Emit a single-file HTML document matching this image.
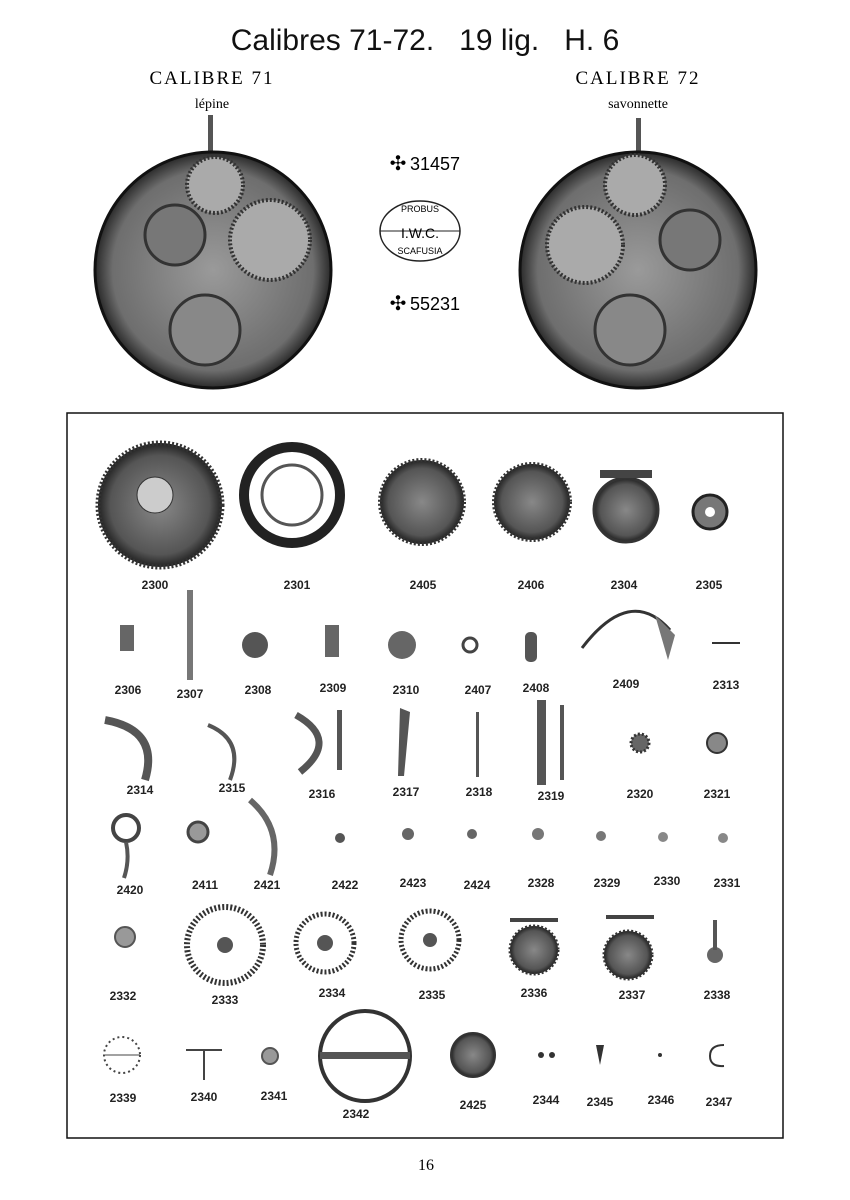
<!DOCTYPE html>
<html><head><meta charset="utf-8"><style>
body{margin:0;background:#fff}
svg{display:block}
text{font-family:"Liberation Sans",sans-serif}
.l{font-size:12px;font-weight:bold;text-anchor:middle;fill:#222}
</style></head><body>
<svg width="850" height="1200" viewBox="0 0 850 1200" xmlns="http://www.w3.org/2000/svg">
<defs>
<radialGradient id="mv" cx="50%" cy="50%" r="50%"><stop offset="0" stop-color="#9a9a9a"/><stop offset="0.85" stop-color="#6e6e6e"/><stop offset="1" stop-color="#2a2a2a"/></radialGradient>
<radialGradient id="gr" cx="50%" cy="50%" r="50%"><stop offset="0" stop-color="#888"/><stop offset="0.8" stop-color="#555"/><stop offset="1" stop-color="#222"/></radialGradient>
</defs>
<rect width="850" height="1200" fill="#fff"/>
<text x="425" y="50" font-size="30" text-anchor="middle" fill="#111">Calibres 71-72.&#160;&#160; 19 lig.&#160;&#160; H. 6</text>
<text x="212" y="84" font-size="19" text-anchor="middle" font-family="Liberation Serif" letter-spacing="2" style="font-family:'Liberation Serif',serif">CALIBRE 71</text>
<text x="212" y="108" font-size="14" text-anchor="middle" style="font-family:'Liberation Serif',serif">lépine</text>
<text x="638" y="84" font-size="19" text-anchor="middle" letter-spacing="2" style="font-family:'Liberation Serif',serif">CALIBRE 72</text>
<text x="638" y="108" font-size="14" text-anchor="middle" style="font-family:'Liberation Serif',serif">savonnette</text>
<!-- movements -->
<rect x="208" y="115" width="5" height="40" fill="#555"/>
<circle cx="213" cy="270" r="118" fill="url(#mv)" stroke="#111" stroke-width="3"/>
<circle cx="215" cy="185" r="28" fill="#aaa" stroke="#333" stroke-width="4" stroke-dasharray="2 2"/>
<circle cx="270" cy="240" r="40" fill="#aaa" stroke="#333" stroke-width="4" stroke-dasharray="2 2"/>
<circle cx="175" cy="235" r="30" fill="#777" stroke="#333" stroke-width="3"/>
<circle cx="205" cy="330" r="35" fill="#888" stroke="#333" stroke-width="3"/>
<rect x="636" y="118" width="5" height="40" fill="#555"/>
<circle cx="638" cy="270" r="118" fill="url(#mv)" stroke="#111" stroke-width="3"/>
<circle cx="635" cy="185" r="30" fill="#aaa" stroke="#333" stroke-width="4" stroke-dasharray="2 2"/>
<circle cx="585" cy="245" r="38" fill="#aaa" stroke="#333" stroke-width="4" stroke-dasharray="2 2"/>
<circle cx="690" cy="240" r="30" fill="#777" stroke="#333" stroke-width="3"/>
<circle cx="630" cy="330" r="35" fill="#888" stroke="#333" stroke-width="3"/>
<!-- center -->
<text x="398" y="170" font-size="20" text-anchor="middle">✣</text>
<text x="435" y="170" font-size="18" text-anchor="middle">31457</text>
<ellipse cx="420" cy="231" rx="40" ry="30" fill="none" stroke="#222" stroke-width="1.5"/>
<line x1="380" y1="231" x2="460" y2="231" stroke="#222"/>
<text x="420" y="212" font-size="9" text-anchor="middle">PROBUS</text>
<text x="420" y="238" font-size="14" text-anchor="middle">I.W.C.</text>
<text x="420" y="254" font-size="9" text-anchor="middle">SCAFUSIA</text>
<text x="398" y="310" font-size="20" text-anchor="middle">✣</text>
<text x="435" y="310" font-size="18" text-anchor="middle">55231</text>
<!-- box -->
<rect x="67" y="413" width="716" height="725" fill="none" stroke="#111" stroke-width="1.5"/>
<!-- row1 -->
<circle cx="160" cy="505" r="62" fill="url(#gr)" stroke="#333" stroke-width="5" stroke-dasharray="2 2"/>
<circle cx="155" cy="495" r="18" fill="#ccc" stroke="#333"/>
<circle cx="292" cy="495" r="48" fill="none" stroke="#222" stroke-width="10"/>
<circle cx="292" cy="495" r="30" fill="none" stroke="#555" stroke-width="3"/>
<circle cx="422" cy="502" r="42" fill="url(#gr)" stroke="#333" stroke-width="4" stroke-dasharray="2 2"/>
<circle cx="532" cy="502" r="38" fill="url(#gr)" stroke="#333" stroke-width="4" stroke-dasharray="2 2"/>
<circle cx="626" cy="510" r="32" fill="url(#gr)" stroke="#333" stroke-width="3"/>
<rect x="600" y="470" width="52" height="8" fill="#444"/>
<circle cx="710" cy="512" r="17" fill="#777" stroke="#222" stroke-width="3"/>
<circle cx="710" cy="512" r="5" fill="#fff"/>
<!-- row2 -->
<rect x="120" y="625" width="14" height="26" fill="#666"/>
<rect x="187" y="590" width="6" height="90" fill="#777"/>
<circle cx="255" cy="645" r="13" fill="#555"/>
<rect x="325" y="625" width="14" height="32" fill="#666"/>
<circle cx="402" cy="645" r="14" fill="#666"/>
<circle cx="470" cy="645" r="7" fill="none" stroke="#444" stroke-width="3"/>
<rect x="525" y="632" width="12" height="30" rx="5" fill="#555"/>
<path d="M582 648 Q630 585 670 630" fill="none" stroke="#333" stroke-width="3"/>
<path d="M655 615 L675 635 L668 660 Z" fill="#777"/>
<line x1="712" y1="643" x2="740" y2="643" stroke="#333" stroke-width="2"/>
<!-- row3 -->
<path d="M105 720 Q160 730 145 780" fill="none" stroke="#555" stroke-width="8"/>
<path d="M208 725 Q245 740 230 780" fill="none" stroke="#555" stroke-width="4"/>
<path d="M296 715 Q340 740 300 772" fill="none" stroke="#555" stroke-width="7"/>
<rect x="337" y="710" width="5" height="60" fill="#555"/>
<path d="M400 708 L410 712 L404 776 L398 776 Z" fill="#555"/>
<rect x="476" y="712" width="3" height="65" fill="#555"/>
<rect x="537" y="700" width="9" height="85" fill="#555"/>
<rect x="560" y="705" width="4" height="75" fill="#555"/>
<circle cx="640" cy="743" r="9" fill="#666" stroke="#333" stroke-width="3" stroke-dasharray="2 2"/>
<circle cx="717" cy="743" r="10" fill="#888" stroke="#333" stroke-width="2"/>
<!-- row4 -->
<circle cx="126" cy="828" r="13" fill="none" stroke="#444" stroke-width="4"/>
<path d="M126 842 Q130 860 124 878" fill="none" stroke="#555" stroke-width="4"/>
<circle cx="198" cy="832" r="10" fill="#999" stroke="#444" stroke-width="3"/>
<path d="M250 800 Q285 830 270 875" fill="none" stroke="#666" stroke-width="6"/>
<circle cx="340" cy="838" r="5" fill="#555"/>
<circle cx="408" cy="834" r="6" fill="#666"/>
<circle cx="472" cy="834" r="5" fill="#666"/>
<circle cx="538" cy="834" r="6" fill="#777"/>
<circle cx="601" cy="836" r="5" fill="#777"/>
<circle cx="663" cy="837" r="5" fill="#888"/>
<circle cx="723" cy="838" r="5" fill="#888"/>
<!-- row5 -->
<circle cx="125" cy="937" r="10" fill="#999" stroke="#555" stroke-width="2"/>
<circle cx="225" cy="945" r="38" fill="#fff" stroke="#333" stroke-width="6" stroke-dasharray="2 2"/>
<circle cx="225" cy="945" r="8" fill="#555"/>
<circle cx="325" cy="943" r="29" fill="#fff" stroke="#333" stroke-width="5" stroke-dasharray="2 2"/>
<circle cx="325" cy="943" r="8" fill="#555"/>
<circle cx="430" cy="940" r="29" fill="#fff" stroke="#333" stroke-width="5" stroke-dasharray="2 2"/>
<circle cx="430" cy="940" r="7" fill="#555"/>
<rect x="510" y="918" width="48" height="4" fill="#444"/>
<circle cx="534" cy="950" r="24" fill="url(#gr)" stroke="#333" stroke-width="3" stroke-dasharray="2 2"/>
<rect x="606" y="915" width="48" height="4" fill="#444"/>
<circle cx="628" cy="955" r="24" fill="url(#gr)" stroke="#333" stroke-width="3" stroke-dasharray="2 2"/>
<circle cx="715" cy="955" r="8" fill="#666"/>
<rect x="713" y="920" width="4" height="30" fill="#555"/>
<!-- row6 -->
<circle cx="122" cy="1055" r="18" fill="none" stroke="#444" stroke-width="2" stroke-dasharray="2 3"/>
<line x1="104" y1="1055" x2="140" y2="1055" stroke="#444"/>
<line x1="186" y1="1050" x2="222" y2="1050" stroke="#444" stroke-width="2"/>
<line x1="204" y1="1050" x2="204" y2="1080" stroke="#444" stroke-width="2"/>
<circle cx="270" cy="1056" r="8" fill="#999" stroke="#555" stroke-width="2"/>
<circle cx="365" cy="1056" r="45" fill="none" stroke="#333" stroke-width="4"/>
<rect x="320" y="1052" width="90" height="7" fill="#555"/>
<circle cx="473" cy="1055" r="22" fill="url(#gr)" stroke="#333" stroke-width="2"/>
<circle cx="541" cy="1055" r="3" fill="#333"/><circle cx="552" cy="1055" r="3" fill="#333"/>
<path d="M596 1045 L600 1065 L604 1045 Z" fill="#333"/>
<circle cx="660" cy="1055" r="2" fill="#333"/>
<path d="M724 1045 Q710 1045 710 1056 Q710 1067 724 1066" fill="none" stroke="#333" stroke-width="2"/>
<!-- labels -->
<g class="l">
<text class="l" x="155" y="589">2300</text><text class="l" x="297" y="589">2301</text><text class="l" x="423" y="589">2405</text><text class="l" x="531" y="589">2406</text><text class="l" x="624" y="589">2304</text><text class="l" x="709" y="589">2305</text>
<text class="l" x="128" y="694">2306</text><text class="l" x="190" y="698">2307</text><text class="l" x="258" y="694">2308</text><text class="l" x="333" y="692">2309</text><text class="l" x="406" y="694">2310</text><text class="l" x="478" y="694">2407</text><text class="l" x="536" y="692">2408</text><text class="l" x="626" y="688">2409</text><text class="l" x="726" y="689">2313</text>
<text class="l" x="140" y="794">2314</text><text class="l" x="232" y="792">2315</text><text class="l" x="322" y="798">2316</text><text class="l" x="406" y="796">2317</text><text class="l" x="479" y="796">2318</text><text class="l" x="551" y="800">2319</text><text class="l" x="640" y="798">2320</text><text class="l" x="717" y="798">2321</text>
<text class="l" x="130" y="894">2420</text><text class="l" x="205" y="889">2411</text><text class="l" x="267" y="889">2421</text><text class="l" x="345" y="889">2422</text><text class="l" x="413" y="887">2423</text><text class="l" x="477" y="889">2424</text><text class="l" x="541" y="887">2328</text><text class="l" x="607" y="887">2329</text><text class="l" x="667" y="885">2330</text><text class="l" x="727" y="887">2331</text>
<text class="l" x="123" y="1000">2332</text><text class="l" x="225" y="1004">2333</text><text class="l" x="332" y="997">2334</text><text class="l" x="432" y="999">2335</text><text class="l" x="534" y="997">2336</text><text class="l" x="632" y="999">2337</text><text class="l" x="717" y="999">2338</text>
<text class="l" x="123" y="1102">2339</text><text class="l" x="204" y="1101">2340</text><text class="l" x="274" y="1100">2341</text><text class="l" x="356" y="1118">2342</text><text class="l" x="473" y="1109">2425</text><text class="l" x="546" y="1104">2344</text><text class="l" x="600" y="1106">2345</text><text class="l" x="661" y="1104">2346</text><text class="l" x="719" y="1106">2347</text>
</g>
<text x="426" y="1170" font-size="16" text-anchor="middle" style="font-family:'Liberation Serif',serif">16</text>
</svg>
</body></html>
